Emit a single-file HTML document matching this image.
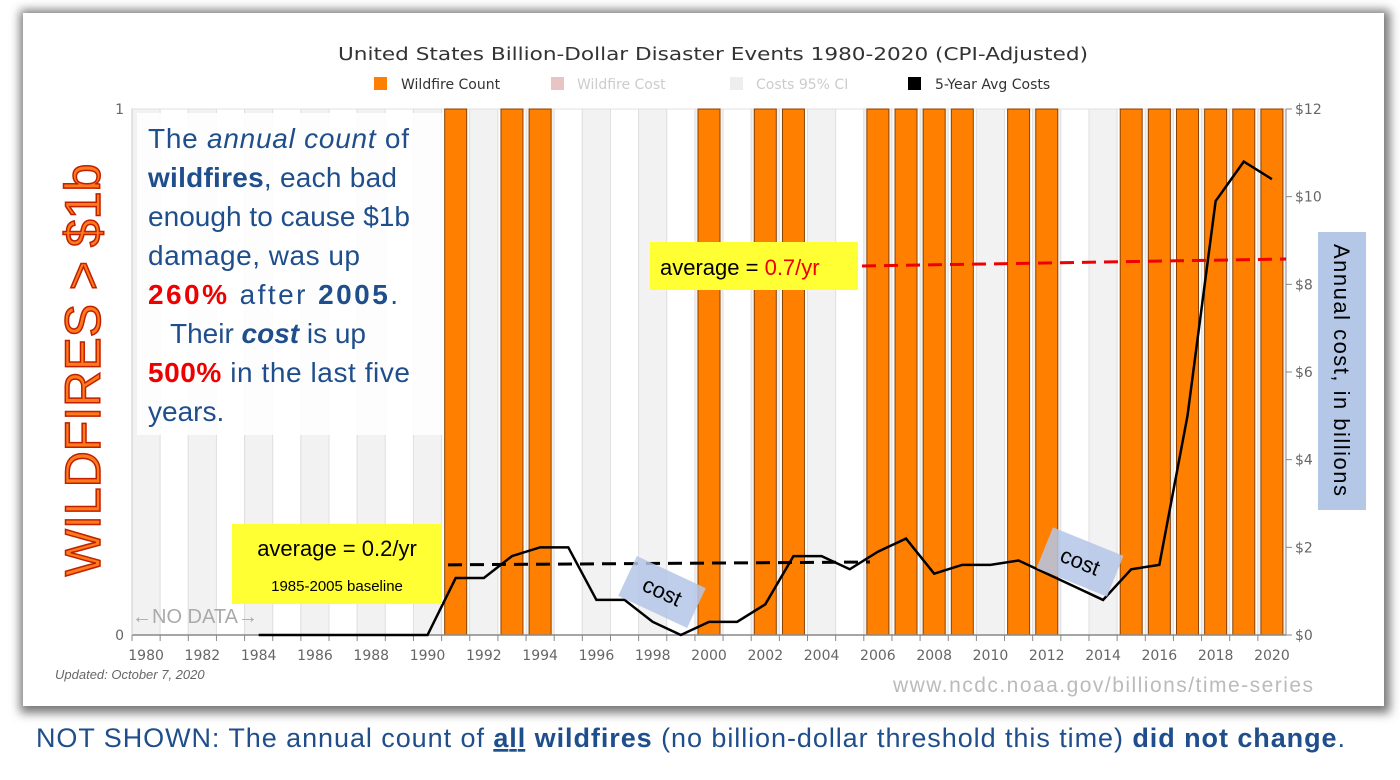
<!DOCTYPE html>
<html><head><meta charset="utf-8"><style>
body{margin:0;width:1400px;height:775px;overflow:hidden;background:#fff;font-family:"Liberation Sans",sans-serif}
</style></head><body>
<svg id="chart" width="1400" height="775" xmlns="http://www.w3.org/2000/svg">
<defs>
<filter id="sh" x="-5%" y="-5%" width="110%" height="110%"><feGaussianBlur stdDeviation="5"/></filter>
</defs>
<rect x="0" y="0" width="1400" height="775" fill="#fff"/>
<rect x="20" y="10" width="1370" height="703" fill="#777" filter="url(#sh)"/>
<rect x="23" y="13" width="1361" height="693" fill="#fff"/>
<text x="338" y="60" textLength="750" lengthAdjust="spacingAndGlyphs" font-family="DejaVu Sans, sans-serif" font-size="18" fill="#333">United States Billion-Dollar Disaster Events 1980-2020 (CPI-Adjusted)</text>
<g font-size="14" fill="#333" font-family="DejaVu Sans, sans-serif">
<g><rect x="374" y="77" width="13" height="13" fill="#ff8000"/><text x="401" y="89">Wildfire Count</text></g>
<g><rect x="551" y="77" width="13" height="13" fill="#e8c4c4"/><text x="577" y="89" fill="#ccc">Wildfire Cost</text></g>
<g><rect x="730" y="77" width="13" height="13" fill="#eee"/><text x="756" y="89" fill="#ccc">Costs 95% CI</text></g>
<g><rect x="908" y="77" width="13" height="13" fill="#000"/><text x="935" y="89">5-Year Avg Costs</text></g>
</g>
<g id="bands"></g>
<g id="bars"></g>
<g id="axes" font-size="14" fill="#666" font-family="DejaVu Sans, sans-serif"></g>
<polyline id="avgline" fill="none" stroke="#000" stroke-width="2.5"/>
<g font-size="28">
<rect x="137" y="113" width="305" height="322" fill="#fff" opacity="0.85"/>
<text x="148" y="148" fill="#1f4e8c" textLength="261">The <tspan font-style="italic">annual count</tspan> of</text>
<text x="148" y="187" fill="#1f4e8c" textLength="249">  <tspan font-weight="bold">wildfires</tspan>, each bad</text>
<text x="148" y="226" fill="#1f4e8c" textLength="262">enough to cause $1b</text>
<text x="148" y="265" fill="#1f4e8c" textLength="212">damage, was up</text>
<text x="148" y="304" fill="#1f4e8c" textLength="250"><tspan font-weight="bold" fill="#e00">260%</tspan> after <tspan font-weight="bold">2005</tspan>.</text>
<text x="170" y="343" fill="#1f4e8c" textLength="196">Their <tspan font-weight="bold" font-style="italic">cost</tspan> is up</text>
<text x="148" y="382" fill="#1f4e8c" textLength="262"><tspan font-weight="bold" fill="#e00">500%</tspan> in the last five</text>
<text x="148" y="421" fill="#1f4e8c">years.</text>
</g>
<text transform="translate(100,370) rotate(-90)" text-anchor="middle" font-size="50" fill="#ff7a1a" stroke="#c02000" stroke-width="1.5">WILDFIRES &gt; $1b</text>
<text x="132" y="623" font-size="20" fill="#aaa">←NO DATA→</text>
<line x1="272" y1="566" x2="870" y2="562" stroke="#000" stroke-width="3" stroke-dasharray="14,8"/>
<g>
<rect x="232" y="524" width="210" height="80" fill="#ffff33"/>
<text x="337" y="556" text-anchor="middle" font-size="22" fill="#000">average = 0.2/yr</text>
<text x="337" y="591" text-anchor="middle" font-size="15" fill="#000">1985-2005 baseline</text>
</g>
<line x1="862" y1="266" x2="1286" y2="259" stroke="#e00" stroke-width="3" stroke-dasharray="14,8"/>
<g>
<rect x="650" y="242" width="208" height="48" fill="#ffff33"/>
<text x="660" y="275" font-size="22" fill="#000">average = <tspan fill="#e00">0.7/yr</tspan></text>
</g>
<g transform="translate(662,592) rotate(25)"><rect x="-38" y="-22" width="76" height="44" fill="#b4c7e7" opacity="0.85"/><text x="0" y="7" text-anchor="middle" font-size="22">cost</text></g>
<g transform="translate(1080,562) rotate(22)"><rect x="-38" y="-22" width="76" height="44" fill="#b4c7e7" opacity="0.85"/><text x="0" y="7" text-anchor="middle" font-size="22">cost</text></g>
<g><rect x="1318" y="232" width="48" height="278" fill="#b4c7e7"/>
<text transform="translate(1334,370) rotate(90)" text-anchor="middle" font-size="22" fill="#000" textLength="252">Annual cost, in billions</text></g>
<text x="55" y="679" font-size="13" font-style="italic" fill="#666">Updated: October 7, 2020</text>
<text x="893" y="692" textLength="420" font-size="21" fill="#bbb">www.ncdc.noaa.gov/billions/time-series</text>
<text x="36" y="747" font-size="27" fill="#1f4e8c" textLength="1309">NOT SHOWN: The annual count of <tspan font-weight="bold" text-decoration="underline">all</tspan> <tspan font-weight="bold">wildfires</tspan> (no billion-dollar threshold this time) <tspan font-weight="bold">did not change</tspan>.</text>
</svg>
<script>
const years=[];for(let y=1980;y<=2020;y++)years.push(y);
const counts=[0,0,0,0,0,0,0,0,0,0,0,1,0,1,1,0,0,0,0,0,1,0,1,1,0,0,1,1,1,1,0,1,1,0,0,1,1,1,1,1,1];
const avgYears=[1984,1985,1986,1987,1988,1989,1990,1991,1992,1993,1994,1995,1996,1997,1998,1999,2000,2001,2002,2003,2004,2005,2006,2007,2008,2009,2010,2011,2012,2013,2014,2015,2016,2017,2018,2019,2020];
const avgCosts=[0,0,0,0,0,0,0,1.3,1.3,1.8,2.0,2.0,0.8,0.8,0.3,0,0.3,0.3,0.7,1.8,1.8,1.5,1.9,2.2,1.4,1.6,1.6,1.7,1.4,1.1,0.8,1.5,1.6,5.0,9.9,10.8,10.4];
const costTicks=[0,2,4,6,8,10,12];
const countTicks=[0,1];
const L=132,R=1286,T=109,B=635,bw=(R-L)/years.length;
const xC=y=>L+(y-1980+0.5)*bw;
const yCost=v=>B-(v/12)*(B-T);
const yCount=v=>B-v*(B-T);
const NS="http://www.w3.org/2000/svg";
function mk(tag,attrs,parent){const e=document.createElementNS(NS,tag);for(const k in attrs)e.setAttribute(k,attrs[k]);parent.appendChild(e);return e;}
const bands=document.getElementById('bands'),bars=document.getElementById('bars'),axes=document.getElementById('axes');
years.forEach((y,i)=>{
 const r=mk('rect',{x:L+i*bw,y:T,width:bw,height:B-T,fill:i%2===0?'#f2f2f2':'#fff',stroke:'#e0e0e0','stroke-width':1},bands);
 
 
 if(counts[i]>0){
  const b=mk('rect',{x:xC(y)-11,y:yCount(counts[i]),width:22,height:B-yCount(counts[i]),fill:'#ff8000',stroke:'#8a4000','stroke-width':1},bars);
  
  
 }
});
mk('line',{x1:L,y1:B,x2:R,y2:B,stroke:'#888','stroke-width':1.5},axes);
mk('line',{x1:L,y1:T,x2:L,y2:B,stroke:'#ccc'},axes);
mk('line',{x1:R,y1:T,x2:R,y2:B,stroke:'#888'},axes);
years.forEach((y,i)=>{
 mk('line',{x1:L+i*bw,y1:B,x2:L+i*bw,y2:B+6,stroke:'#888'},axes);
 if(y%2===0){const t=mk('text',{x:xC(y),y:B+25,'text-anchor':'middle'},axes);t.textContent=y;
 
 }
});
costTicks.forEach(v=>{
 mk('line',{x1:R,y1:yCost(v),x2:R+6,y2:yCost(v),stroke:'#888'},axes);
 const t=mk('text',{x:R+9,y:yCost(v)+5},axes);t.textContent='$'+v;
 
 
});
countTicks.forEach(v=>{
 const t=mk('text',{x:L-8,y:yCount(v)+5,'text-anchor':'end'},axes);t.textContent=v;
 
 
});
document.getElementById('avgline').setAttribute('points',avgYears.map((y,i)=>xC(y)+','+yCost(avgCosts[i])).join(' '));
</script>
</body></html>
